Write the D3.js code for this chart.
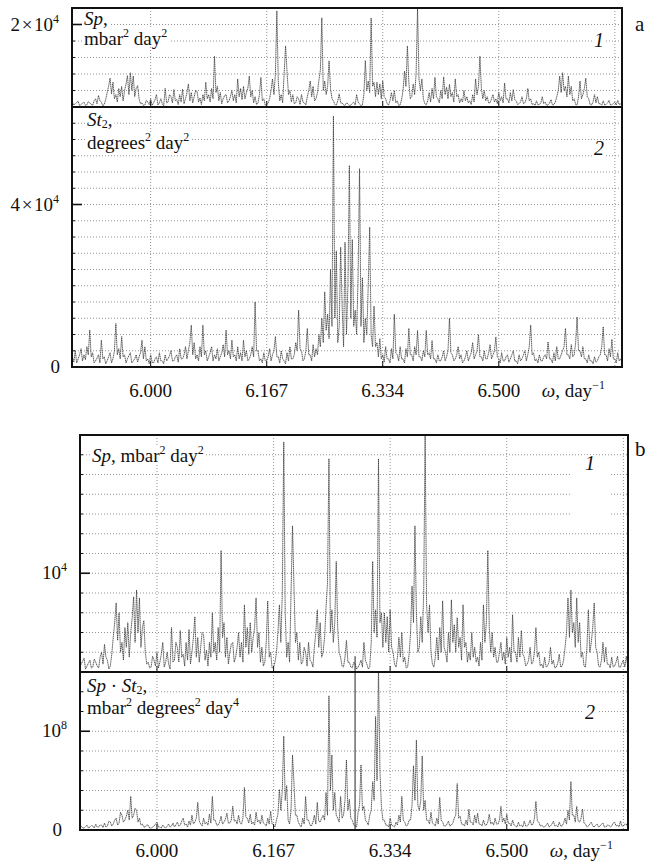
<!DOCTYPE html>
<html><head><meta charset="utf-8">
<script src="https://cdn.jsdelivr.net/npm/d3@7"></script>
<style>
body{margin:0;background:#fff}
svg{display:block}
text{font-family:"Liberation Serif","Times New Roman",Times,serif;fill:#111}
</style>
</head><body>
<svg id="chart" width="648" height="863" font-family="Liberation Serif, Times New Roman, serif"></svg>
<script>
// Frequency grid of the spectra (day^-1)
const omegaStart = 6 - 27 / 240;
const omegaStep = 1 / 480;

// Sp, units of 10^3 mbar^2 day^2
const spectrumSp = [
1.2,0.5, 0.8,1.1, 1.4,0.3, 0.6,0.9, 1.2,0.4, 0.5,1.3, 1.0,0.6, 0.4,1.5, 2.0,0.8, 2.8,1.5,
1.2,0.3, 0.6,1.8, 3.5,5.0, 7.0,3.2, 6.0,2.0, 3.0,1.2, 4.5,2.5, 5.0,1.5, 4.0,5.5, 7.6,3.0,
8.3,4.0, 7.5,2.5, 4.5,5.2, 2.0,0.8, 1.0,0.4, 0.5,1.6, 1.2,0.6, 2.0,0.4, 1.0,1.8, 3.0,0.5,
1.0,2.0, 0.8,0.3, 4.5,1.0, 1.2,3.0, 2.5,1.0, 4.2,1.5, 1.8,0.6, 3.0,1.2, 4.3,0.8, 2.0,3.5,
5.6,1.5, 3.5,1.0, 2.5,4.0, 3.8,1.2, 2.2,0.6, 3.0,1.5, 6.0,2.0, 3.0,1.2, 4.5,2.0, 12.3,3.5,
5.0,1.5, 3.5,0.8, 2.0,2.8, 3.0,1.0, 1.5,2.5, 4.0,1.5, 3.0,1.0, 6.8,2.5, 4.5,1.8, 5.0,2.0,
3.5,4.5, 7.5,2.5, 4.0,1.0, 2.5,0.6, 1.0,3.0, 7.2,1.5, 2.0,0.4, 0.5,1.0, 2.0,4.0, 6.8,3.0,
8.0,23.3, 6.0,1.5, 3.0,1.0, 8.0,14.8, 8.7,3.0, 4.0,1.2, 3.0,0.8, 1.0,2.5, 2.0,0.6, 3.0,1.2,
1.0,0.5, 2.5,4.0, 6.3,2.5, 5.0,1.5, 2.0,3.5, 6.5,9.0, 21.6,4.0, 6.3,3.0, 5.0,11.2, 4.5,2.0,
1.5,0.6, 0.5,1.5, 3.2,1.0, 1.0,0.5, 0.4,1.0, 0.8,0.3, 0.5,0.8, 1.2,0.5, 3.0,1.2, 0.8,0.3,
0.5,3.0, 11.2,4.0, 6.3,3.5, 21.6,5.0, 6.0,2.5, 6.0,3.0, 5.6,2.0, 6.3,2.5, 2.0,0.8, 0.5,1.5,
3.5,1.5, 4.0,1.0, 1.5,0.4, 0.5,1.8, 4.0,8.7, 5.0,14.8, 6.0,2.0, 2.5,5.6, 3.0,8.0, 24.0,6.8,
4.0,6.8, 2.0,0.8, 0.5,1.5, 3.5,1.2, 4.5,2.0, 7.2,2.5, 2.0,1.0, 4.0,2.0, 7.3,3.0, 4.8,2.0,
5.5,2.5, 3.5,1.2, 6.8,2.5, 3.0,1.0, 2.0,1.2, 4.0,1.5, 2.5,1.0, 1.5,0.6, 3.0,1.2, 6.8,3.0,
5.0,12.3, 4.5,2.0, 4.0,1.5, 2.5,1.0, 1.0,2.0, 3.0,1.2, 2.0,0.8, 3.5,1.5, 2.5,1.0, 5.8,2.0,
2.0,1.0, 3.5,1.5, 4.2,1.8, 1.5,0.6, 0.8,1.2, 2.5,0.8, 1.0,2.0, 4.5,1.5, 2.0,0.6, 0.8,0.4,
1.5,0.5, 0.6,1.0, 2.5,0.8, 1.2,0.4, 0.5,0.9, 1.8,0.5, 0.6,1.2, 2.5,4.0, 7.5,3.5, 8.3,4.0,
5.0,2.5, 7.5,3.0, 5.0,1.5, 2.0,0.6, 0.5,2.5, 6.3,2.0, 3.0,4.5, 7.0,2.5, 2.0,0.6, 0.5,1.2,
3.0,1.0, 2.5,0.8, 0.8,0.4, 1.5,0.5, 0.6,1.0, 1.6,0.5, 0.5,0.9, 1.2,0.5, 1.6,0.6, 0.8,0.4
];

// St2, units of 10^3 degrees^2 day^2
const spectrumSt2 = [
2.5,1.2, 4.0,1.0, 2.0,3.0, 4.5,1.5, 3.0,1.8, 5.0,3.0, 9.1,2.5, 3.5,1.0, 1.5,2.2, 3.0,1.0,
6.6,2.0, 2.5,0.8, 1.5,2.5, 3.5,1.0, 2.0,4.0, 10.7,3.0, 4.5,2.0, 7.5,2.5, 3.0,1.0, 2.0,2.8,
3.5,1.0, 1.5,2.0, 3.0,1.2, 2.5,3.5, 6.6,2.0, 5.0,1.5, 2.0,0.8, 3.0,1.2, 1.0,2.0, 2.5,1.0,
3.5,1.5, 1.5,0.8, 3.0,1.5, 2.0,2.8, 4.0,1.5, 1.5,2.5, 3.0,1.2, 4.5,2.0, 2.0,3.0, 5.0,2.0,
4.0,6.0, 10.3,3.0, 6.0,2.0, 3.0,1.5, 5.0,2.5, 10.3,3.0, 4.0,1.5, 2.5,3.5, 5.0,1.5, 3.0,2.0,
4.5,1.5, 2.5,3.5, 5.5,2.5, 9.1,3.0, 4.0,2.0, 6.6,2.5, 3.0,1.5, 5.0,2.0, 3.5,1.5, 6.6,2.5,
4.0,1.5, 2.0,3.0, 5.0,2.5, 16.0,4.0, 4.0,1.5, 2.0,1.0, 3.5,1.5, 1.5,2.5, 4.5,1.5, 3.0,4.0,
7.5,2.5, 2.5,1.0, 4.0,2.0, 1.5,0.8, 3.5,1.5, 5.0,2.0, 2.0,3.0, 6.0,4.0, 14.0,4.5, 4.0,1.5,
2.0,4.0, 9.5,3.0, 3.0,1.5, 5.5,2.5, 4.5,3.0, 8.0,5.0, 12.0,6.0, 18.5,9.0, 13.0,7.0, 24.0,10.0,
61.8,12.0, 28.6,6.0, 10.0,29.5, 15.0,5.0, 30.7,8.0, 20.0,49.6, 12.0,31.4, 10.0,14.0, 8.0,22.0, 48.8,10.0,
22.0,6.0, 12.0,8.0, 20.0,34.4, 8.0,5.0, 15.0,5.0, 6.0,2.5, 7.0,2.0, 3.0,1.2, 5.0,2.0, 2.0,1.0,
4.5,2.0, 13.0,3.5, 3.0,1.5, 5.0,2.0, 2.0,1.0, 4.5,2.5, 9.5,3.0, 3.0,1.5, 5.0,3.0, 9.0,2.5,
2.5,1.5, 4.0,2.5, 9.0,3.0, 3.5,2.0, 6.5,2.0, 2.0,1.0, 3.0,1.5, 1.5,2.5, 4.0,1.5, 2.5,4.0,
12.0,3.5, 3.0,1.5, 2.0,3.0, 5.0,2.0, 3.0,1.0, 1.5,2.5, 4.0,1.5, 2.5,3.5, 6.0,2.0, 3.0,4.0,
8.0,2.5, 2.5,1.5, 4.0,2.0, 2.0,3.5, 5.5,2.0, 3.0,4.0, 7.4,2.5, 2.0,1.0, 3.5,1.5, 1.5,2.5,
3.0,1.2, 2.0,3.0, 4.0,1.5, 1.5,0.8, 3.0,1.5, 2.0,3.0, 4.0,1.5, 3.0,5.0, 10.3,3.0, 3.5,1.5,
2.0,1.0, 3.0,1.5, 1.5,2.5, 3.0,2.0, 6.2,2.0, 2.0,1.0, 3.5,1.5, 5.0,2.0, 2.0,3.0, 4.0,5.0,
9.5,3.0, 3.0,2.0, 5.5,2.5, 3.0,6.0, 12.3,4.0, 4.0,2.5, 5.0,2.0, 2.0,1.0, 3.0,1.5, 1.5,0.8,
2.5,1.2, 1.5,2.5, 3.0,5.0, 9.9,3.0, 3.0,1.5, 4.5,2.5, 6.8,2.0, 2.0,1.0, 3.5,1.5, 2.0,1.0
];

// Sp·St2, units of 10^7 mbar^2 degrees^2 day^4
const spectrumProduct = [
0.3,0.15, 0.4,0.2, 0.2,0.35, 0.5,0.2, 0.3,0.45, 0.4,0.2, 0.6,0.3, 0.3,0.5, 0.5,0.25, 0.7,0.3,
0.4,0.9, 0.8,0.4, 0.6,1.0, 1.2,0.5, 0.7,1.8, 1.5,0.8, 1.0,1.4, 2.0,1.0, 3.4,1.2, 1.5,2.2,
2.0,0.8, 1.2,0.5, 0.6,0.3, 0.3,0.5, 0.5,0.2, 0.2,0.3, 0.4,0.6, 0.8,0.3, 0.3,0.2, 0.5,0.3,
0.2,0.4, 0.6,0.3, 0.4,0.7, 0.3,0.5, 0.8,0.4, 0.5,0.9, 1.2,0.5, 0.6,0.3, 0.9,0.5, 1.5,0.6,
0.8,1.2, 2.8,0.9, 0.6,0.4, 1.2,0.6, 0.8,0.5, 1.6,0.7, 3.4,1.0, 1.0,0.5, 0.5,0.8, 1.4,0.6,
0.8,1.1, 1.7,0.7, 0.7,1.0, 2.4,0.9, 1.0,0.6, 1.5,0.7, 0.6,1.2, 4.3,1.3, 1.2,0.7, 1.6,0.6,
0.8,0.5, 1.8,0.8, 1.0,0.6, 1.5,0.7, 0.6,0.4, 1.2,0.6, 1.9,0.6, 0.5,0.3, 1.0,1.6, 4.1,2.0,
4.0,9.5, 3.0,4.5, 1.0,0.6, 2.0,7.6, 4.8,1.5, 1.5,0.8, 0.5,0.3, 1.2,0.6, 3.4,1.0, 1.0,0.5,
0.4,0.8, 1.5,0.6, 2.8,0.9, 0.8,1.2, 1.5,1.0, 3.8,1.5, 13.6,4.0, 7.6,2.0, 3.8,1.5, 1.2,0.8,
3.4,1.2, 1.5,3.0, 7.1,2.0, 3.1,1.2, 1.0,0.5, 0.4,0.3, 1.8,2.5, 6.6,2.0, 2.4,1.0, 0.8,0.5,
1.5,2.0, 4.9,3.0, 11.5,5.0, 16.5,6.0, 2.4,1.0, 1.0,0.5, 0.5,0.3, 1.2,0.5, 0.4,0.3, 0.8,0.5,
1.5,0.8, 3.4,1.0, 0.8,0.4, 0.5,1.0, 1.0,2.5, 6.5,3.0, 9.1,2.5, 2.0,3.0, 7.5,2.0, 3.0,1.0,
1.0,0.6, 1.8,0.7, 0.6,0.4, 1.2,0.6, 3.3,1.0, 0.8,0.4, 0.4,0.6, 0.9,0.4, 0.5,0.7, 1.2,1.5,
4.7,1.2, 1.4,0.6, 0.6,0.4, 1.0,0.5, 2.1,0.8, 0.8,0.5, 1.5,0.7, 1.7,0.6, 0.6,0.4, 1.0,0.5,
0.5,0.8, 1.6,0.6, 0.8,0.5, 1.2,0.6, 0.6,1.0, 2.4,0.8, 1.2,0.6, 1.6,0.7, 0.7,0.4, 1.0,0.5,
0.4,0.3, 0.8,0.4, 0.5,0.3, 0.9,0.4, 0.4,0.6, 1.0,0.5, 0.6,1.2, 2.9,0.9, 0.8,0.4, 0.5,0.3,
0.3,0.5, 0.7,0.3, 0.4,0.6, 0.9,0.4, 0.5,0.3, 0.8,0.4, 0.4,0.7, 1.2,0.6, 2.0,1.0, 4.9,1.5,
1.5,0.8, 2.4,0.9, 0.8,1.2, 2.1,0.7, 0.6,0.3, 0.4,0.6, 0.8,0.4, 0.3,0.5, 0.6,0.3, 0.4,0.6,
0.7,0.3, 0.3,0.5, 0.5,0.3, 0.4,0.7, 0.8,0.4, 0.5,0.3, 0.9,0.4, 0.4,0.6, 0.6,0.3, 0.3,0.4
];

// Frequency axis
const xTickValues = [6.0, 6.1667, 6.3333, 6.5];
const xTickLabels = ["6.000", "6.167", "6.334", "6.500"];
const xGridValues = [6.0, 6.1667, 6.3333, 6.5, 6.6667];
const markerOmega = 2 * Math.PI;

const FS = 19;     // label font size
const FS_SUP = 12; // superscript / subscript size

const svg = d3.select("#chart");

function drawPanel(p) {
  const g = svg.append("g");
  const [x0, x1] = p.x.range();
  const [yb, yt] = p.y.range();
  const clipId = "clip" + p.id;
  svg.append("clipPath").attr("id", clipId).append("rect")
    .attr("x", x0).attr("y", yt).attr("width", x1 - x0).attr("height", yb - yt);

  // horizontal grid
  const hGrid = d3.range(p.gridStep, p.y.domain()[1] + 1e-9, p.gridStep);
  g.selectAll(".hg").data(hGrid).join("line")
    .attr("x1", x0).attr("x2", x1)
    .attr("y1", d => p.y(d)).attr("y2", d => p.y(d))
    .attr("stroke", "#7a7a7a").attr("stroke-width", 0.8).attr("stroke-dasharray", "1,2");
  // vertical grid
  g.selectAll(".vg").data(xGridValues).join("line")
    .attr("x1", d => p.x(d)).attr("x2", d => p.x(d))
    .attr("y1", yt).attr("y2", yb)
    .attr("stroke", "#7a7a7a").attr("stroke-width", 0.8).attr("stroke-dasharray", "1,2");

  // blank area of the grid around the curve number
  if (p.blank) {
    g.append("rect").attr("x", p.blank[0]).attr("y", p.blank[1])
      .attr("width", p.blank[2]).attr("height", p.blank[3]).attr("fill", "#fff");
  }

  // short inner ticks at each grid level, long at the labelled level
  g.selectAll(".yt").data(hGrid).join("line")
    .attr("x1", x0).attr("x2", d => x0 + (p.majorValues.includes(d) ? 10 : 3))
    .attr("y1", d => p.y(d)).attr("y2", d => p.y(d))
    .attr("stroke", "#111").attr("stroke-width", d => p.majorValues.includes(d) ? 1.6 : 1);
  g.selectAll(".xt").data(xTickValues).join("line")
    .attr("x1", d => p.x(d)).attr("x2", d => p.x(d))
    .attr("y1", yb).attr("y2", yb - 6)
    .attr("stroke", "#111").attr("stroke-width", 1);

  // spectrum trace
  const line = d3.line()
    .x((d, i) => p.x(omegaStart + i * omegaStep))
    .y(d => p.y(d));
  g.append("path").datum(p.data)
    .attr("clip-path", `url(#${clipId})`)
    .attr("d", line)
    .attr("fill", "none").attr("stroke", "#333").attr("stroke-width", 0.8)
    .attr("stroke-dasharray", "1.4,0.5");

  // y labels
  p.yLabels.forEach(l => {
    const t = svg.append("text").attr("x", l.x).attr("y", p.y(l.v) + 6)
      .attr("text-anchor", "end").attr("font-size", FS);
    t.append("tspan").text(l.base);
    if (l.sup) t.append("tspan").attr("dy", -8).attr("font-size", FS_SUP).text(l.sup);
  });
  return g;
}

function textWithBg(parent, x, y, parts, size) {
  const t = parent.append("text").attr("x", x).attr("y", y).attr("font-size", size);
  let shifted = 0;
  parts.forEach(pt => {
    const s = t.append("tspan").text(pt.t);
    const target = pt.sup ? -8 : pt.sub ? 2 : 0;
    if (target !== shifted) { s.attr("dy", target - shifted); shifted = target; }
    if (pt.sup || pt.sub) s.attr("font-size", FS_SUP);
    if (pt.it) s.attr("font-style", "italic");
  });
  const bb = t.node().getBBox();
  parent.insert("rect", () => t.node())
    .attr("x", bb.x - 2).attr("y", bb.y + 3).attr("width", bb.width + 4).attr("height", bb.height - 5)
    .attr("fill", "#fff");
  return t;
}

// ---------- block a ----------
const xA = d3.scaleLinear().domain([5.887, 6.677]).range([72, 622]);
const yA1 = d3.scaleLinear().domain([0, 24]).range([107, 8]);
const yA2 = d3.scaleLinear().domain([0, 64]).range([367, 107]);

drawPanel({id: "a1", x: xA, y: yA1, data: spectrumSp, gridStep: 4, majorValues: [20],
  yLabels: [{v: 20, x: 59, base: "2\u200a\u00d7\u200a10", sup: "4"}]});
drawPanel({id: "a2", x: xA, y: yA2, data: spectrumSt2, gridStep: 4, majorValues: [40],
  yLabels: [{v: 40, x: 59, base: "4\u200a\u00d7\u200a10", sup: "4"}, {v: 0, x: 60, base: "0"}]});

const labA = svg.append("g");
textWithBg(labA, 84, 25, [{t: "Sp", it: true}, {t: ","}], FS);
textWithBg(labA, 84, 45, [{t: "mbar"}, {t: "2", sup: true}, {t: " day"}, {t: "2", sup: true}], FS);
textWithBg(labA, 87, 126, [{t: "St", it: true}, {t: "2", sub: true}, {t: ","}], FS);
textWithBg(labA, 87, 149, [{t: "degrees"}, {t: "2", sup: true}, {t: " day"}, {t: "2", sup: true}], FS);
textWithBg(labA, 594, 47, [{t: "1", it: true}], 20);
textWithBg(labA, 594, 155, [{t: "2", it: true}], 20);

// frame of block a
svg.append("rect").attr("x", 72).attr("y", 8).attr("width", 550).attr("height", 359)
  .attr("fill", "none").attr("stroke", "#111").attr("stroke-width", 2);
svg.append("line").attr("x1", 72).attr("x2", 622).attr("y1", 107).attr("y2", 107)
  .attr("stroke", "#111").attr("stroke-width", 2);
svg.append("text").attr("x", 635).attr("y", 31).attr("font-size", 21).text("a");

function xAxisLabels(x, yBase) {
  svg.append("g").selectAll("text").data(xTickValues).join("text")
    .attr("x", d => x(d)).attr("y", yBase).attr("text-anchor", "middle")
    .attr("font-size", FS).text((d, i) => xTickLabels[i]);
  const t = svg.append("text").attr("x", x(6.5) + 43).attr("y", yBase).attr("font-size", FS);
  t.append("tspan").attr("font-style", "italic").text("\u03c9");
  t.append("tspan").text(", day");
  t.append("tspan").attr("dy", -8).attr("font-size", FS_SUP).text("\u22121");
}
xAxisLabels(xA, 397);

// ---------- block b ----------
const xB = d3.scaleLinear().domain([5.890, 6.6733]).range([80, 628]);
const yB1 = d3.scaleLinear().domain([0, 24]).range([672, 435]);
const yB2 = d3.scaleLinear().domain([0, 16]).range([830, 672]);

drawPanel({id: "b1", x: xB, y: yB1, data: spectrumSp, gridStep: 2, majorValues: [10],
  yLabels: [{v: 10, x: 67, base: "10", sup: "4"}], blank: [570, 468, 40, 50]});
drawPanel({id: "b2", x: xB, y: yB2, data: spectrumProduct, gridStep: 2, majorValues: [10],
  yLabels: [{v: 10, x: 67, base: "10", sup: "8"}, {v: 0, x: 62, base: "0"}]});

// reference line at omega = 2*pi
svg.append("line")
  .attr("x1", xB(markerOmega)).attr("x2", xB(markerOmega))
  .attr("y1", yB1(1.6)).attr("y2", yB2(0))
  .attr("stroke", "#222").attr("stroke-width", 1);

const labB = svg.append("g");
textWithBg(labB, 92, 462, [{t: "Sp", it: true}, {t: ", mbar"}, {t: "2", sup: true}, {t: " day"}, {t: "2", sup: true}], FS);
textWithBg(labB, 87, 692, [{t: "Sp", it: true}, {t: " \u00b7 "}, {t: "St", it: true}, {t: "2", sub: true}, {t: ","}], FS);
textWithBg(labB, 87, 714, [{t: "mbar"}, {t: "2", sup: true}, {t: " degrees"}, {t: "2", sup: true}, {t: " day"}, {t: "4", sup: true}], FS);
textWithBg(labB, 585, 470, [{t: "1", it: true}], 20);
textWithBg(labB, 585, 719, [{t: "2", it: true}], 20);

svg.append("rect").attr("x", 80).attr("y", 435).attr("width", 548).attr("height", 395)
  .attr("fill", "none").attr("stroke", "#111").attr("stroke-width", 2);
svg.append("line").attr("x1", 80).attr("x2", 628).attr("y1", 672).attr("y2", 672)
  .attr("stroke", "#111").attr("stroke-width", 2);
svg.append("text").attr("x", 635).attr("y", 456).attr("font-size", 21).text("b");

xAxisLabels(xB, 857);
</script>
</body></html>
